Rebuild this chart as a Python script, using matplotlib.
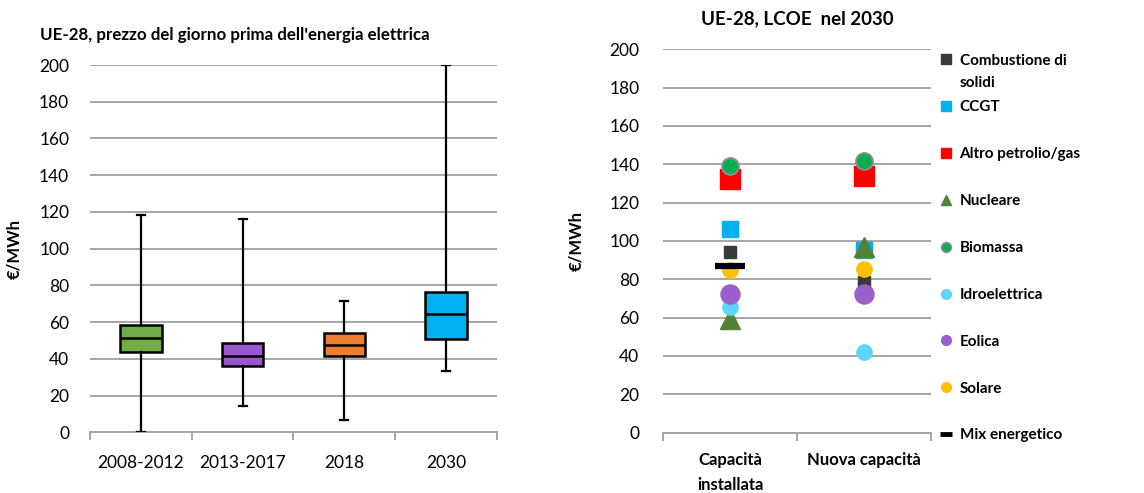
import matplotlib
matplotlib.use("Agg")
import matplotlib.pyplot as plt
from matplotlib.lines import Line2D

plt.rcParams['font.family'] = ['Lato', 'DejaVu Sans']

# ---------------- data: left chart (box plot) ----------------
periods = ["2008-2012", "2013-2017", "2018", "2030"]
whisker_low = [0, 14.5, 6.5, 33.5]
q1 = [43.8, 36.2, 41.8, 51.0]
median = [51.2, 41.8, 47.6, 64.2]
q3 = [58.6, 48.4, 54.0, 76.3]
whisker_high = [118.3, 116.2, 71.6, 200]
box_colors = ["#70AD47", "#9B57CF", "#ED7D31", "#00B0F0"]

# ---------------- data: right chart (LCOE 2030) ----------------
lcoe_categories = ["Capacità\ninstallata", "Nuova capacità"]
series_names = ["Combustione di", "CCGT", "Altro petrolio/gas", "Nucleare",
                "Biomassa", "Idroelettrica", "Eolica", "Solare", "Mix energetico"]
first_name_cont = "solidi"
solidi = [94.0, 78.5]
ccgt = [106.4, 95.3]
altro = [132.3, 134.1]
nucleare = [59.5, 97.0]
biomassa = [139.1, 141.6]
idro = [65.4, 42.3]
eolica = [72.5, 72.5]
solare = [84.9, 85.2]
mix = [87.1, None]
yticks = [0, 20, 40, 60, 80, 100, 120, 140, 160, 180, 200]

fig = plt.figure(figsize=(11.44, 4.93), dpi=100)
grid_c = "#A6A6A6"

# ---------------- left chart ----------------
ax1 = fig.add_axes([0.0787, 0.1231, 0.3557, 0.745])
stats = []
for i, p in enumerate(periods):
    stats.append(dict(label=p, whislo=whisker_low[i], q1=q1[i], med=median[i],
                      q3=q3[i], whishi=whisker_high[i]))
bp = ax1.bxp(stats, positions=range(1, len(periods) + 1), widths=0.41,
             showfliers=False, patch_artist=True,
             boxprops=dict(linewidth=1.8, edgecolor="black"),
             medianprops=dict(color="black", linewidth=1.8),
             whiskerprops=dict(color="black", linewidth=1.6),
             capprops=dict(color="black", linewidth=1.6), capwidths=0.08)
for patch, c in zip(bp['boxes'], box_colors):
    patch.set_facecolor(c)
    patch.set_zorder(3)
for k in ('whiskers', 'caps', 'medians'):
    for l in bp[k]:
        l.set_zorder(4)

ax1.set_xlim(0.5, len(periods) + 0.5)
ax1.set_ylim(0, 200)
ax1.set_yticks(yticks)
ax1.yaxis.grid(True, color=grid_c, linewidth=1.4)
ax1.set_axisbelow(True)
ax1.set_xticks([i + 0.5 for i in range(len(periods) + 1)])
ax1.set_xticklabels([])
ax1.set_xticks(range(1, len(periods) + 1), minor=True)
ax1.set_xticklabels(periods, minor=True, fontsize=12.5)
ax1.tick_params(axis='x', which='major', length=6, color=grid_c, width=1.4)
ax1.tick_params(axis='x', which='minor', length=0, pad=16)
ax1.tick_params(axis='y', length=0, labelsize=12.5, pad=15)
for s in ('top', 'right', 'left'):
    ax1.spines[s].set_visible(False)
ax1.spines['bottom'].set_color(grid_c)
ax1.spines['bottom'].set_linewidth(1.4)
ax1.set_ylabel("€/MWh", fontsize=12, fontweight='bold', labelpad=12)
fig.text(40 / 1144, 1 - 35 / 493, "UE-28, prezzo del giorno prima dell'energia elettrica",
         fontsize=12.2, fontweight='bold', ha='left', va='center')

# ---------------- right chart ----------------
ax2 = fig.add_axes([0.5795, 0.1223, 0.2343, 0.778])
xs = [1, 2]
series = [solidi, ccgt, altro, nucleare, biomassa, idro, eolica, solare, mix]
styles = [
    dict(marker='s', color="#3A3A3A", ms=8.8, mec="#3A3A3A"),
    dict(marker='s', color="#00B0F0", ms=11.5, mec="#00B0F0"),
    dict(marker='s', color="#FF0000", ms=13.7, mec="#FF0000"),
    dict(marker='^', color="#548235", ms=14, mec="#548235"),
    dict(marker='o', color="#00B050", ms=12, mec="#8C8C8C", mew=1.5),
    dict(marker='o', color="#5DD5FF", ms=11, mec="#5DD5FF"),
    dict(marker='o', color="#9B5FCC", ms=13.7, mec="#9B5FCC"),
    dict(marker='o', color="#FFC000", ms=11, mec="#FFC000"),
    dict(marker='_', color="black", ms=21, mec="black", mew=4.5),
]
handles = []
for name, vals, st in zip(series_names, series, styles):
    px = [x for x, v in zip(xs, vals) if v is not None]
    py = [v for v in vals if v is not None]
    ax2.plot(px, py, linestyle='none', zorder=3, **st)
    hst = dict(st)
    hst['ms'] = 7 if st['marker'] != '_' else 8
    if st['marker'] == '_':
        hst['mew'] = 3.5
    if st['marker'] == 'o' and 'mew' in st:
        hst['mew'] = 1.2
    handles.append(Line2D([], [], linestyle='none', label=name, **hst))

ax2.set_xlim(0.5, 2.5)
ax2.set_ylim(0, 200)
ax2.set_yticks(yticks)
ax2.yaxis.grid(True, color=grid_c, linewidth=1.4)
ax2.set_axisbelow(True)
ax2.set_xticks([0.5, 1.5, 2.5])
ax2.set_xticklabels([])
ax2.set_xticks(xs, minor=True)
ax2.set_xticklabels(lcoe_categories, minor=True, fontsize=12, fontweight='bold',
                    linespacing=1.65)
ax2.tick_params(axis='x', which='major', length=6, color=grid_c, width=1.4)
ax2.tick_params(axis='x', which='minor', length=0, pad=14)
ax2.tick_params(axis='y', length=0, labelsize=12.5, pad=17)
for s in ('top', 'right', 'left'):
    ax2.spines[s].set_visible(False)
ax2.spines['bottom'].set_color(grid_c)
ax2.spines['bottom'].set_linewidth(1.4)
ax2.set_ylabel("€/MWh", fontsize=12, fontweight='bold', labelpad=18)
ax2.set_title("UE-28, LCOE  nel 2030", fontsize=13.5, fontweight='bold', pad=18)

leg = fig.legend(handles=handles, loc='upper left', bbox_to_anchor=(932 / 1144, 1 - 46 / 493),
                 frameon=False, prop=dict(size=11, weight='bold'),
                 labelspacing=2.15, handlelength=0.8, handletextpad=0.5, borderpad=0)

# continuation line of the first legend label, placed under it
fig.canvas.draw()
t0 = leg.get_texts()[0]
bb = t0.get_window_extent().transformed(fig.transFigure.inverted())
fig.text(bb.x0, bb.y0 - 22 / 493 + (bb.y1 - bb.y0) / 2, first_name_cont,
         fontsize=11, fontweight='bold', ha='left', va='center')

fig.savefig("out.png", dpi=100)
